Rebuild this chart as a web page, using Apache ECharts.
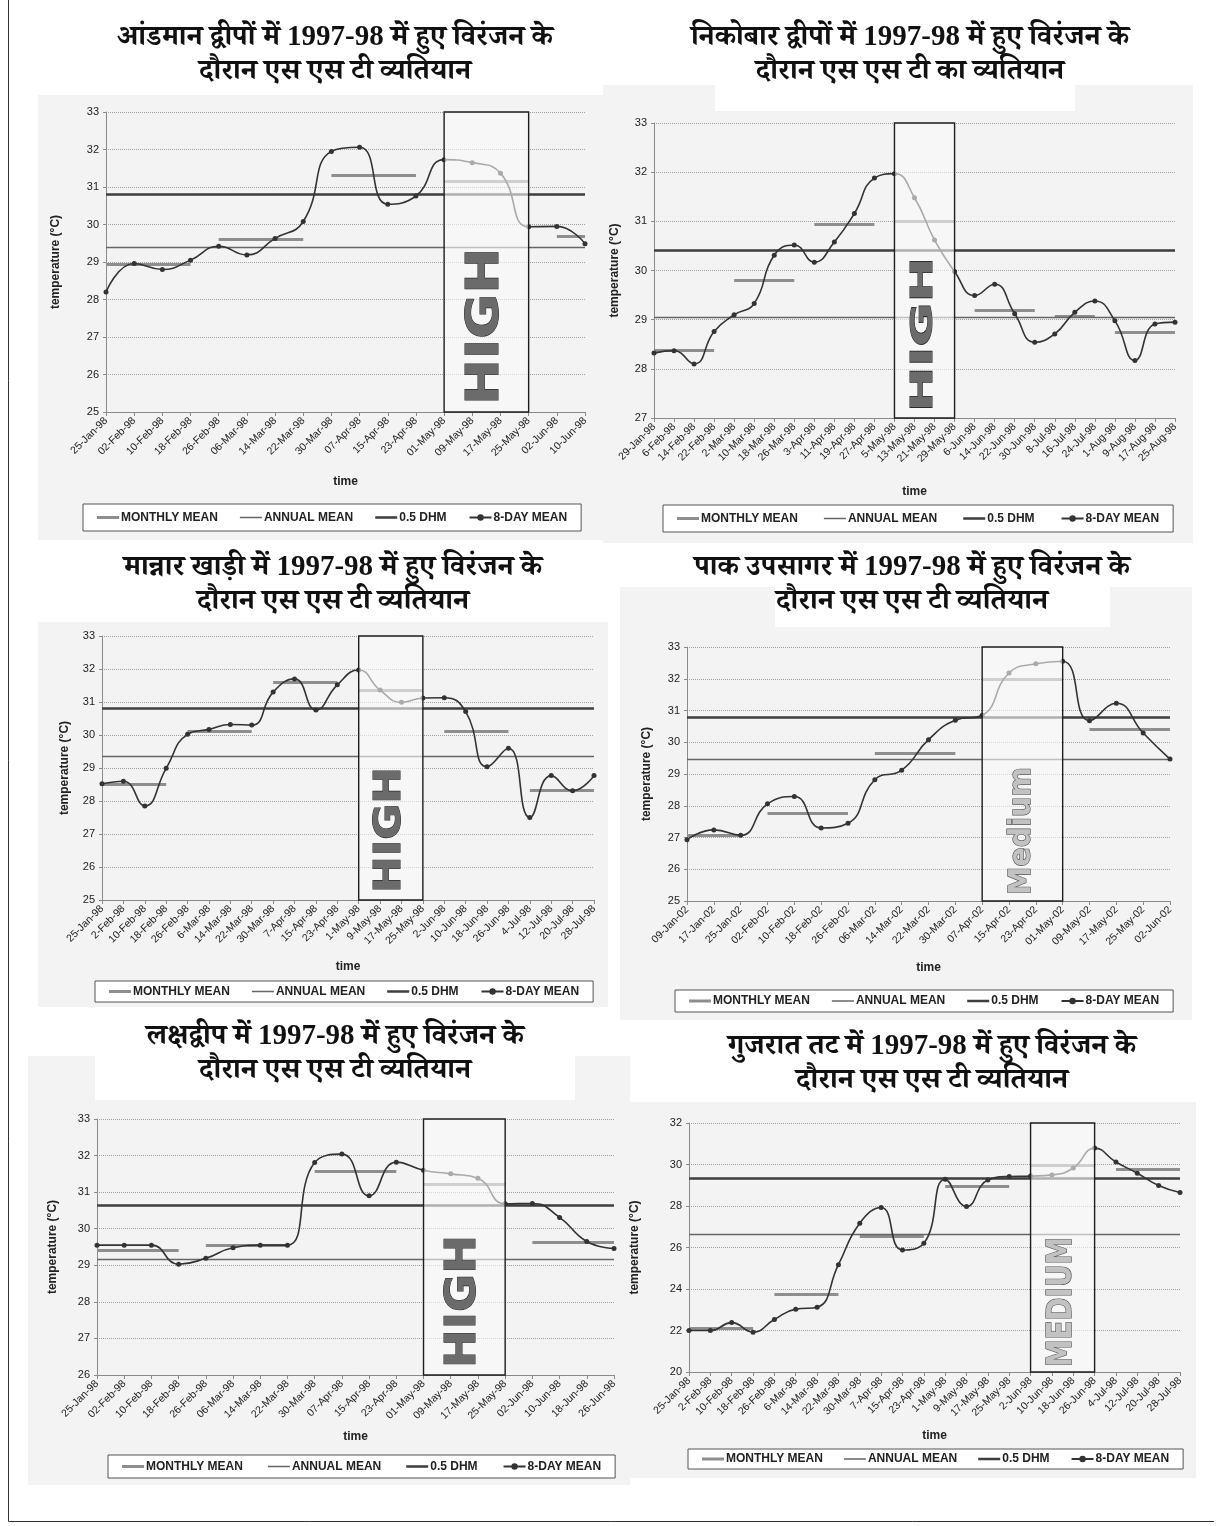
<!DOCTYPE html>
<html>
<head>
<meta charset="utf-8">
<script src="https://cdn.jsdelivr.net/npm/echarts@6/dist/echarts.min.js"></script>
<style>
  html, body { margin: 0; padding: 0; background: #ffffff; }
  #chart { width: 1221px; height: 1526px; }
</style>
</head>
<body>
<div id="chart"></div>
<script>
// ---- shared texts ----
const legendNames = ['MONTHLY MEAN', 'ANNUAL MEAN', '0.5 DHM', '8-DAY MEAN'];
const yAxisTitle = 'temperature (°C)';
const xAxisTitle = 'time';

// ---- Andaman islands ----
const andamanTitle = 'आंडमान द्वीपों में 1997-98 में हुए विरंजन के\nदौरान एस एस टी व्यतियान';
const andamanDates = ['25-Jan-98','02-Feb-98','10-Feb-98','18-Feb-98','26-Feb-98','06-Mar-98','14-Mar-98','22-Mar-98','30-Mar-98','07-Apr-98','15-Apr-98','23-Apr-98','01-May-98','09-May-98','17-May-98','25-May-98','02-Jun-98','10-Jun-98'];
const andamanEightDay = [28.2, 28.96, 28.8, 29.05, 29.42, 29.19, 29.63, 30.08, 31.95, 32.06, 30.54, 30.76, 31.73, 31.65, 31.37, 29.94, 29.95, 29.49];
const andamanMonthFrom = ['25-Jan-98','26-Feb-98','30-Mar-98','01-May-98','02-Jun-98'];
const andamanMonthTo = ['18-Feb-98','22-Mar-98','23-Apr-98','25-May-98','10-Jun-98'];
const andamanMonthMean = [28.95, 29.61, 31.31, 31.16, 29.68];
const andamanAnnualMean = 29.4;
const andamanHalfDHM = 30.82;
const andamanAxis = [25, 33, 1];
const andamanBleaching = ['01-May-98', '25-May-98', 'HIGH'];

// ---- Nicobar islands ----
const nicobarTitle = 'निकोबार द्वीपों में 1997-98 में हुए विरंजन के\nदौरान एस एस टी का व्यतियान';
const nicobarDates = ['29-Jan-98','6-Feb-98','14-Feb-98','22-Feb-98','2-Mar-98','10-Mar-98','18-Mar-98','26-Mar-98','3-Apr-98','11-Apr-98','19-Apr-98','27-Apr-98','5-May-98','13-May-98','21-May-98','29-May-98','6-Jun-98','14-Jun-98','22-Jun-98','30-Jun-98','8-Jul-98','16-Jul-98','24-Jul-98','1-Aug-98','9-Aug-98','17-Aug-98','25-Aug-98'];
const nicobarEightDay = [28.32, 28.37, 28.1, 28.76, 29.1, 29.33, 30.31, 30.52, 30.17, 30.58, 31.16, 31.88, 31.97, 31.48, 30.62, 29.98, 29.49, 29.72, 29.12, 28.54, 28.71, 29.15, 29.38, 28.98, 28.17, 28.91, 28.95];
const nicobarMonthFrom = ['29-Jan-98','2-Mar-98','3-Apr-98','5-May-98','6-Jun-98','8-Jul-98','1-Aug-98'];
const nicobarMonthTo = ['22-Feb-98','26-Mar-98','27-Apr-98','29-May-98','30-Jun-98','24-Jul-98','25-Aug-98'];
const nicobarMonthMean = [28.38, 29.81, 30.94, 31.01, 29.2, 29.07, 28.74];
const nicobarAnnualMean = 29.05;
const nicobarHalfDHM = 30.41;
const nicobarAxis = [27, 33, 1];
const nicobarBleaching = ['5-May-98', '29-May-98', 'HIGH'];

// ---- Gulf of Mannar ----
const mannarTitle = 'मान्नार खाड़ी में 1997-98 में हुए विरंजन के\nदौरान एस एस टी व्यतियान';
const mannarDates = ['25-Jan-98','2-Feb-98','10-Feb-98','18-Feb-98','26-Feb-98','6-Mar-98','14-Mar-98','22-Mar-98','30-Mar-98','7-Apr-98','15-Apr-98','23-Apr-98','1-May-98','9-May-98','17-May-98','25-May-98','2-Jun-98','10-Jun-98','18-Jun-98','26-Jun-98','4-Jul-98','12-Jul-98','20-Jul-98','28-Jul-98'];
const mannarEightDay = [28.52, 28.6, 27.85, 28.99, 30.02, 30.17, 30.32, 30.3, 31.3, 31.7, 30.76, 31.52, 31.97, 31.36, 30.99, 31.12, 31.13, 30.71, 29.04, 29.6, 27.5, 28.77, 28.31, 28.77];
const mannarMonthFrom = ['25-Jan-98','26-Feb-98','30-Mar-98','1-May-98','2-Jun-98','4-Jul-98'];
const mannarMonthTo = ['18-Feb-98','22-Mar-98','23-Apr-98','25-May-98','26-Jun-98','28-Jul-98'];
const mannarMonthMean = [28.5, 30.1, 31.59, 31.37, 30.12, 28.33];
const mannarAnnualMean = 29.35;
const mannarHalfDHM = 30.8;
const mannarAxis = [25, 33, 1];
const mannarBleaching = ['1-May-98', '25-May-98', 'HIGH'];

// ---- Palk Bay ----
const palkTitle = 'पाक उपसागर में 1997-98 में हुए विरंजन के\nदौरान एस एस टी व्यतियान';
const palkDates = ['09-Jan-02','17-Jan-02','25-Jan-02','02-Feb-02','10-Feb-02','18-Feb-02','26-Feb-02','06-Mar-02','14-Mar-02','22-Mar-02','30-Mar-02','07-Apr-02','15-Apr-02','23-Apr-02','01-May-02','09-May-02','17-May-02','25-May-02','02-Jun-02'];
const palkEightDay = [26.93, 27.24, 27.07, 28.06, 28.29, 27.3, 27.45, 28.82, 29.12, 30.08, 30.69, 30.85, 32.18, 32.47, 32.55, 30.68, 31.23, 30.29, 29.47];
const palkMonthFrom = ['09-Jan-02','02-Feb-02','06-Mar-02','07-Apr-02','09-May-02'];
const palkMonthTo = ['25-Jan-02','26-Feb-02','30-Mar-02','01-May-02','02-Jun-02'];
const palkMonthMean = [27.07, 27.77, 29.65, 32.0, 30.41];
const palkAnnualMean = 29.45;
const palkHalfDHM = 30.8;
const palkAxis = [25, 33, 1];
const palkBleaching = ['07-Apr-02', '01-May-02', 'Medium'];

// ---- Lakshadweep ----
const lakshadweepTitle = 'लक्षद्वीप में 1997-98 में हुए विरंजन के\nदौरान एस एस टी व्यतियान';
const lakshadweepDates = ['25-Jan-98','02-Feb-98','10-Feb-98','18-Feb-98','26-Feb-98','06-Mar-98','14-Mar-98','22-Mar-98','30-Mar-98','07-Apr-98','15-Apr-98','23-Apr-98','01-May-98','09-May-98','17-May-98','25-May-98','02-Jun-98','10-Jun-98','18-Jun-98','26-Jun-98'];
const lakshadweepEightDay = [29.55, 29.55, 29.55, 29.03, 29.19, 29.48, 29.55, 29.55, 31.81, 32.04, 30.9, 31.82, 31.6, 31.5, 31.38, 30.68, 30.69, 30.31, 29.65, 29.46];
const lakshadweepMonthFrom = ['25-Jan-98','26-Feb-98','30-Mar-98','01-May-98','02-Jun-98'];
const lakshadweepMonthTo = ['18-Feb-98','22-Mar-98','23-Apr-98','25-May-98','26-Jun-98'];
const lakshadweepMonthMean = [29.4, 29.55, 31.58, 31.21, 29.63];
const lakshadweepAnnualMean = 29.17;
const lakshadweepHalfDHM = 30.63;
const lakshadweepAxis = [26, 33, 1];
const lakshadweepBleaching = ['01-May-98', '25-May-98', 'HIGH'];

// ---- Gujarat coast ----
const gujaratTitle = 'गुजरात तट में 1997-98 में हुए विरंजन के\nदौरान एस एस टी व्यतियान';
const gujaratDates = ['25-Jan-98','2-Feb-98','10-Feb-98','18-Feb-98','26-Feb-98','6-Mar-98','14-Mar-98','22-Mar-98','30-Mar-98','7-Apr-98','15-Apr-98','23-Apr-98','1-May-98','9-May-98','17-May-98','25-May-98','2-Jun-98','10-Jun-98','18-Jun-98','26-Jun-98','4-Jul-98','12-Jul-98','20-Jul-98','28-Jul-98'];
const gujaratEightDay = [22.0, 22.0, 22.38, 21.92, 22.53, 23.03, 23.12, 25.17, 27.17, 27.93, 25.88, 26.2, 29.29, 27.97, 29.25, 29.42, 29.44, 29.5, 29.83, 30.79, 30.12, 29.58, 28.99, 28.65];
const gujaratMonthFrom = ['25-Jan-98','26-Feb-98','30-Mar-98','1-May-98','2-Jun-98','4-Jul-98'];
const gujaratMonthTo = ['18-Feb-98','22-Mar-98','23-Apr-98','25-May-98','26-Jun-98','28-Jul-98'];
const gujaratMonthMean = [22.13, 23.74, 26.56, 28.97, 29.95, 29.79];
const gujaratAnnualMean = 26.65;
const gujaratHalfDHM = 29.34;
const gujaratAxis = [20, 32, 2];
const gujaratBleaching = ['2-Jun-98', '26-Jun-98', 'MEDIUM'];

const panels = [
  { title: andamanTitle, dates: andamanDates, eight: andamanEightDay, mFrom: andamanMonthFrom, mTo: andamanMonthTo, mMean: andamanMonthMean, annual: andamanAnnualMean, dhm: andamanHalfDHM, axis: andamanAxis, bleach: andamanBleaching },
  { title: nicobarTitle, dates: nicobarDates, eight: nicobarEightDay, mFrom: nicobarMonthFrom, mTo: nicobarMonthTo, mMean: nicobarMonthMean, annual: nicobarAnnualMean, dhm: nicobarHalfDHM, axis: nicobarAxis, bleach: nicobarBleaching },
  { title: mannarTitle, dates: mannarDates, eight: mannarEightDay, mFrom: mannarMonthFrom, mTo: mannarMonthTo, mMean: mannarMonthMean, annual: mannarAnnualMean, dhm: mannarHalfDHM, axis: mannarAxis, bleach: mannarBleaching },
  { title: palkTitle, dates: palkDates, eight: palkEightDay, mFrom: palkMonthFrom, mTo: palkMonthTo, mMean: palkMonthMean, annual: palkAnnualMean, dhm: palkHalfDHM, axis: palkAxis, bleach: palkBleaching },
  { title: lakshadweepTitle, dates: lakshadweepDates, eight: lakshadweepEightDay, mFrom: lakshadweepMonthFrom, mTo: lakshadweepMonthTo, mMean: lakshadweepMonthMean, annual: lakshadweepAnnualMean, dhm: lakshadweepHalfDHM, axis: lakshadweepAxis, bleach: lakshadweepBleaching },
  { title: gujaratTitle, dates: gujaratDates, eight: gujaratEightDay, mFrom: gujaratMonthFrom, mTo: gujaratMonthTo, mMean: gujaratMonthMean, annual: gujaratAnnualMean, dhm: gujaratHalfDHM, axis: gujaratAxis, bleach: gujaratBleaching }
];

// ---- page layout (pixels) ----
// bg: grey chart-area panel; box: white title text box lying over the panel's top edge
const layouts = [
  { grid: { left: 106, top: 112, width: 479, height: 300 }, titleX: 335, titleTop: 21, yGap: 44, xGap: 64, legend: { left: 83, top: 504, pad: [7.5, 14], gap: 22 }, tag: { cap: 32, len: 157, gap: 7 }, bg: [38, 95, 565, 445], box: null },
  { grid: { left: 654, top: 123, width: 521, height: 295 }, titleX: 910, titleTop: 21, yGap: 33, xGap: 68, legend: { left: 663, top: 505, pad: [7.5, 14], gap: 26 }, tag: { cap: 22, len: 155, gap: 6 }, bg: [603, 85, 590, 458], box: [715, 85, 360, 26] },
  { grid: { left: 102, top: 636, width: 492, height: 264 }, titleX: 333, titleTop: 551, yGap: 31, xGap: 61, legend: { left: 95, top: 981, pad: [4.5, 14], gap: 22 }, tag: { cap: 27, len: 126, gap: 7 }, bg: [38, 622, 570, 385], box: null },
  { grid: { left: 687, top: 647, width: 483, height: 254 }, titleX: 912, titleTop: 551, yGap: 34, xGap: 61, legend: { left: 675, top: 990, pad: [5, 14], gap: 22 }, tag: { cap: 22, len: 128, gap: 6 }, bg: [620, 587, 572, 433], box: [775, 587, 335, 40] },
  { grid: { left: 97, top: 1119, width: 517, height: 256 }, titleX: 335, titleTop: 1020, yGap: 38, xGap: 56, legend: { left: 108, top: 1455, pad: [5.5, 14], gap: 25 }, tag: { cap: 31, len: 133, gap: 7 }, bg: [28, 1056, 602, 429], box: [95, 1056, 480, 44] },
  { grid: { left: 689, top: 1123, width: 491, height: 249 }, titleX: 932, titleTop: 1030, yGap: 48, xGap: 58, legend: { left: 688, top: 1449, pad: [4, 14], gap: 21 }, tag: { cap: 24, len: 130, gap: 5 }, bg: [622, 1102, 574, 376], box: null }
];

const NARROW = "'Liberation Sans Narrow', 'Arial Narrow', 'Liberation Sans', sans-serif";
const SANS = "'Liberation Sans', Arial, sans-serif";
const TITLE_FONT = "'Liberation Serif', 'Noto Serif Devanagari', 'Noto Sans Devanagari', 'Lohit Devanagari', 'FreeSerif', serif";

const COLORS = { eight: '#333333', month: '#8e8e8e', annual: '#666666', dhm: '#3e3e3e', axis: '#8a8a8a', grid: '#a0a0a0' };

// legend glyphs: horizontal strokes of the same weight as the plotted lines
function strokeIcon(weight) {
  const a = (4 - weight / 2).toFixed(2), b = (4 + weight / 2).toFixed(2);
  return 'path://M0,0L0.01,0L0,0.01Z M0,' + a + 'H22V' + b + 'H0Z M22,8L21.99,8L22,7.99Z';
}

const option = {
  animation: false,
  backgroundColor: '#ffffff',
  title: [], grid: [], xAxis: [], yAxis: [], series: [], legend: []
};

panels.forEach((p, i) => {
  const L = layouts[i];
  option.title.push({
    text: p.title, left: L.titleX, top: L.titleTop, textAlign: 'center', padding: 0,
    textStyle: { fontFamily: TITLE_FONT, fontSize: 29, fontWeight: 'bold', lineHeight: 34, color: '#111' }
  });
  option.grid.push(Object.assign({ show: false, containLabel: false }, L.grid));
  option.xAxis.push({
    gridIndex: i, type: 'category', data: p.dates, boundaryGap: false,
    name: xAxisTitle, nameLocation: 'middle', nameGap: L.xGap,
    nameTextStyle: { fontFamily: SANS, fontWeight: 'bold', fontSize: 12, color: '#222' },
    axisLine: { lineStyle: { color: COLORS.axis, width: 1 } },
    axisTick: { show: true, length: 4, lineStyle: { color: COLORS.axis } },
    axisLabel: { rotate: 45, interval: 0, fontSize: 10.5, fontFamily: NARROW, color: '#222', margin: 7 },
    splitLine: { show: false }
  });
  option.yAxis.push({
    gridIndex: i, type: 'value', min: p.axis[0], max: p.axis[1], interval: p.axis[2],
    name: yAxisTitle, nameLocation: 'middle', nameRotate: 90, nameGap: L.yGap,
    nameTextStyle: { fontFamily: SANS, fontWeight: 'bold', fontSize: 12, color: '#222' },
    axisLine: { show: true, lineStyle: { color: COLORS.axis, width: 1 } },
    axisTick: { show: true, length: 3, lineStyle: { color: COLORS.axis } },
    axisLabel: { fontSize: 11, fontFamily: NARROW, color: '#222', margin: 7 },
    splitLine: { show: true, lineStyle: { color: COLORS.grid, type: 'dotted', width: 1 } }
  });

  const segments = p.mMean.map((v, k) => [
    { coord: [p.dates.indexOf(p.mFrom[k]), v] },
    { coord: [p.dates.indexOf(p.mTo[k]), v] }
  ]);

  option.series.push(
    {
      name: 'MONTHLY MEAN', type: 'line', xAxisIndex: i, yAxisIndex: i, data: [], symbol: 'none',
      lineStyle: { color: COLORS.month, width: 3 }, itemStyle: { color: COLORS.month },
      markLine: { silent: true, z: 4, symbol: 'none', label: { show: false },
        lineStyle: { color: COLORS.month, width: 3, type: 'solid' }, emphasis: { disabled: true }, data: segments }
    },
    {
      name: 'ANNUAL MEAN', type: 'line', xAxisIndex: i, yAxisIndex: i, data: [], symbol: 'none',
      lineStyle: { color: COLORS.annual, width: 1.3 }, itemStyle: { color: COLORS.annual },
      markLine: { silent: true, z: 4, symbol: 'none', label: { show: false },
        lineStyle: { color: COLORS.annual, width: 1.3, type: 'solid' }, emphasis: { disabled: true }, data: [{ yAxis: p.annual }] }
    },
    {
      name: '0.5 DHM', type: 'line', xAxisIndex: i, yAxisIndex: i, data: [], symbol: 'none',
      lineStyle: { color: COLORS.dhm, width: 2.6 }, itemStyle: { color: COLORS.dhm },
      markLine: { silent: true, z: 4, symbol: 'none', label: { show: false },
        lineStyle: { color: COLORS.dhm, width: 2.6, type: 'solid' }, emphasis: { disabled: true }, data: [{ yAxis: p.dhm }] }
    },
    {
      name: '8-DAY MEAN', type: 'line', xAxisIndex: i, yAxisIndex: i, data: p.eight, z: 6,
      smooth: 0.5, symbol: 'circle', symbolSize: 5,
      lineStyle: { color: COLORS.eight, width: 1.6 }, itemStyle: { color: COLORS.eight }
    },
    {
      // bleaching period shading box, drawn over the lines
      type: 'line', xAxisIndex: i, yAxisIndex: i, data: [], silent: true,
      markArea: { silent: true, z: 10,
        itemStyle: { color: 'rgba(250,250,250,0.6)', borderColor: '#1e1e1e', borderWidth: 1.4 },
        data: [[{ xAxis: p.dates.indexOf(p.bleach[0]) }, { xAxis: p.dates.indexOf(p.bleach[1]) }]] }
    }
  );

  option.legend.push({
    data: [
      { name: legendNames[0], icon: strokeIcon(3) },
      { name: legendNames[1], icon: strokeIcon(1.3) },
      { name: legendNames[2], icon: strokeIcon(2.6) },
      { name: legendNames[3] }
    ],
    left: L.legend.left, top: L.legend.top, width: 560, orient: 'horizontal',
    selectedMode: false, itemGap: L.legend.gap, itemWidth: 22, itemHeight: 8,
    padding: L.legend.pad, borderColor: '#555', borderWidth: 1, backgroundColor: '#ffffff',
    textStyle: { fontFamily: SANS, fontWeight: 'bold', fontSize: 12, color: '#222', padding: [0, 0, 0, -3] }
  });
});

const chart = echarts.init(document.getElementById('chart'), null, { renderer: 'canvas' });
chart.setOption(option);

// ---- decorations: page frame, panel backgrounds, bleaching tags ----
const measureCtx = document.createElement('canvas').getContext('2d');
const elements = [];

elements.push({ type: 'polyline', z: -100, shape: { points: [[8.5, 0], [8.5, 1521.5], [1214, 1521.5]] },
  style: { fill: 'none', stroke: '#333', lineWidth: 1 } });

layouts.forEach((L) => {
  elements.push({ type: 'rect', z: -90, shape: { x: L.bg[0], y: L.bg[1], width: L.bg[2], height: L.bg[3] },
    style: { fill: '#f3f3f3' } });
  if (L.box) {
    elements.push({ type: 'rect', z: -80, shape: { x: L.box[0], y: L.box[1], width: L.box[2], height: L.box[3] },
      style: { fill: '#ffffff' } });
  }
});

panels.forEach((p, i) => {
  const L = layouts[i];
  const x0 = chart.convertToPixel({ xAxisIndex: i }, p.dates.indexOf(p.bleach[0]));
  const x1 = chart.convertToPixel({ xAxisIndex: i }, p.dates.indexOf(p.bleach[1]));
  const yBottom = chart.convertToPixel({ yAxisIndex: i }, p.axis[0]);
  const fontSize = L.tag.cap / 0.729;
  measureCtx.font = 'bold ' + fontSize + 'px "DejaVu Sans"';
  const w = measureCtx.measureText(p.bleach[2]).width;
  const heavy = p.bleach[2] === 'HIGH';
  elements.push({
    type: 'text', z: 50, silent: true,
    x: (x0 + x1) / 2, y: yBottom - L.tag.gap,
    rotation: Math.PI / 2, scaleX: L.tag.len / w, scaleY: 1,
    style: {
      text: p.bleach[2], fontFamily: 'DejaVu Sans', fontWeight: 'bold', fontSize: fontSize,
      fill: heavy ? '#6b6b6b' : '#c2c2c2', stroke: heavy ? '#2a2a2a' : '#555555', lineWidth: heavy ? 1 : 1.3,
      textAlign: 'left', textVerticalAlign: 'middle', align: 'left', verticalAlign: 'middle'
    }
  });
});

chart.setOption({ graphic: { elements: elements } });
</script>
</body>
</html>
